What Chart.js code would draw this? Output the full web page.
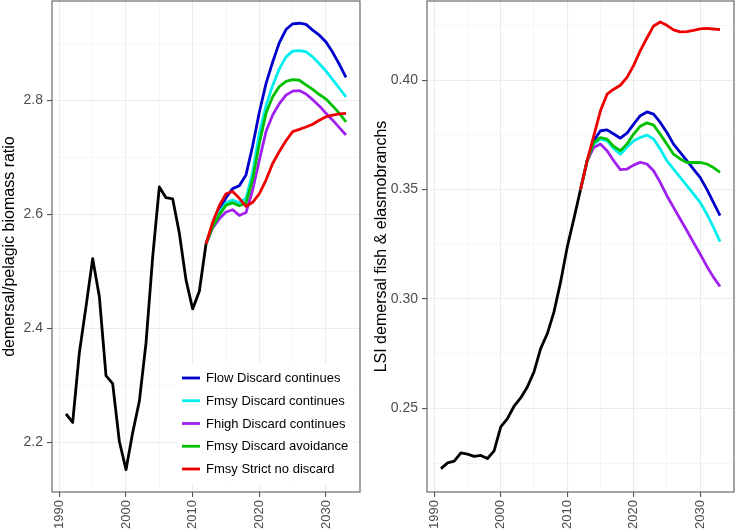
<!DOCTYPE html>
<html>
<head>
<meta charset="utf-8">
<script src="https://cdn.jsdelivr.net/npm/chart.js@4.4.1/dist/chart.umd.min.js"></script>
<style>
  body { margin: 0; background: #fff; }
  #wrap { position: relative; width: 736px; height: 529px; }
  .panel { position: absolute; top: 0; height: 529px; }
</style>
</head>
<body>
<div id="wrap">
  <div class="panel" style="left:0;width:366px"><canvas id="ratioChart" width="366" height="529"></canvas></div>
  <div class="panel" style="left:366px;width:370px"><canvas id="lsiChart" width="370" height="529"></canvas></div>
</div>
<script>
// years
const obsYears = [1991, 1992, 1993, 1994, 1995, 1996, 1997, 1998, 1999, 2000, 2001,
  2002, 2003, 2004, 2005, 2006, 2007, 2008, 2009, 2010, 2011, 2012];
const scenYears = [2012, 2013, 2014, 2015, 2016, 2017, 2018, 2019, 2020, 2021, 2022,
  2023, 2024, 2025, 2026, 2027, 2028, 2029, 2030, 2031, 2032, 2033];

const scenarioNames = ["Flow Discard continues", "Fmsy Discard continues", "Fhigh Discard continues",
  "Fmsy Discard avoidance", "Fmsy Strict no discard"];
const scenarioColors = ["#0000CD", "#00EEEE", "#A020F0", "#00C000", "#EE0000"];

// left panel: demersal/pelagic biomass ratio
const ratioObserved = [2.250, 2.235, 2.357, 2.438, 2.522, 2.456, 2.317, 2.303, 2.202, 2.152, 2.217,
  2.272, 2.374, 2.525, 2.648, 2.629, 2.627, 2.567, 2.485, 2.434, 2.465, 2.548];
const ratioFlow = [2.548, 2.580, 2.607, 2.629, 2.645, 2.650, 2.669, 2.720, 2.779, 2.829, 2.867,
  2.901, 2.924, 2.934, 2.935, 2.933, 2.923, 2.914, 2.902, 2.884, 2.863, 2.840];
const ratioFmsy = [2.548, 2.579, 2.603, 2.620, 2.625, 2.620, 2.628, 2.674, 2.742, 2.790, 2.826,
  2.855, 2.876, 2.886, 2.887, 2.885, 2.876, 2.864, 2.851, 2.836, 2.821, 2.806];
const ratioFhigh = [2.548, 2.576, 2.592, 2.604, 2.608, 2.598, 2.603, 2.643, 2.695, 2.745, 2.774,
  2.794, 2.809, 2.816, 2.817, 2.811, 2.801, 2.790, 2.777, 2.765, 2.752, 2.739];
const ratioAvoid = [2.548, 2.578, 2.599, 2.616, 2.620, 2.615, 2.620, 2.662, 2.724, 2.777, 2.806,
  2.824, 2.833, 2.836, 2.835, 2.827, 2.819, 2.810, 2.802, 2.790, 2.777, 2.762];
const ratioStrict = [2.548, 2.586, 2.615, 2.636, 2.640, 2.628, 2.614, 2.621, 2.636, 2.660, 2.689,
  2.710, 2.729, 2.745, 2.749, 2.753, 2.758, 2.765, 2.771, 2.774, 2.776, 2.777];

// right panel: LSI demersal fish & elasmobranchs
const lsiObserved = [0.2225, 0.2251, 0.2259, 0.2297, 0.2291, 0.2281, 0.2285, 0.2271, 0.2306, 0.2416, 0.2453,
  0.2510, 0.2548, 0.2598, 0.2667, 0.2773, 0.2841, 0.2940, 0.3077, 0.3237, 0.3366, 0.3500];
const lsiFlow = [0.3500, 0.3632, 0.3723, 0.3769, 0.3773, 0.3754, 0.3735, 0.3758, 0.3799, 0.3838, 0.3855,
  0.3845, 0.3807, 0.3761, 0.3708, 0.3670, 0.3632, 0.3594, 0.3556, 0.3502, 0.3442, 0.3381];
const lsiFmsy = [0.3500, 0.3632, 0.3708, 0.3731, 0.3723, 0.3688, 0.3662, 0.3693, 0.3723, 0.3738, 0.3749,
  0.3731, 0.3685, 0.3632, 0.3594, 0.3556, 0.3518, 0.3480, 0.3442, 0.3389, 0.3328, 0.3262];
const lsiFhigh = [0.3500, 0.3632, 0.3693, 0.3708, 0.3678, 0.3632, 0.3591, 0.3594, 0.3612, 0.3625, 0.3617,
  0.3586, 0.3533, 0.3472, 0.3419, 0.3366, 0.3313, 0.3259, 0.3206, 0.3150, 0.3100, 0.3057];
const lsiAvoid = [0.3500, 0.3632, 0.3715, 0.3738, 0.3731, 0.3697, 0.3678, 0.3708, 0.3754, 0.3790, 0.3805,
  0.3795, 0.3753, 0.3708, 0.3662, 0.3640, 0.3624, 0.3624, 0.3624, 0.3617, 0.3601, 0.3579];
const lsiStrict = [0.3500, 0.3632, 0.3746, 0.3860, 0.3936, 0.3959, 0.3977, 0.4013, 0.4068, 0.4135, 0.4193,
  0.4248, 0.4266, 0.4251, 0.4230, 0.4221, 0.4222, 0.4228, 0.4235, 0.4237, 0.4234, 0.4231];

// ticks (minor ones carry no label)
const xTicks = [1990, 1995, 2000, 2005, 2010, 2015, 2020, 2025, 2030, 2035];
const xMajor = [1990, 2000, 2010, 2020, 2030];
const ratioTicks = [2.2, 2.3, 2.4, 2.5, 2.6, 2.7, 2.8, 2.9];
const ratioMajor = [2.2, 2.4, 2.6, 2.8];
const lsiTicks = [0.225, 0.25, 0.275, 0.30, 0.325, 0.35, 0.375, 0.40, 0.425];
const lsiMajor = [0.25, 0.30, 0.35, 0.40];

const FONT = '"Liberation Sans", Arial, sans-serif';

function isIn(list, v) {
  return list.some(m => Math.abs(m - v) < 1e-9);
}

function toPoints(years, vals) {
  return years.map((yr, i) => ({ x: yr, y: vals[i] }));
}

function buildDatasets(observed, scen) {
  const sets = [];
  scen.forEach((vals, i) => {
    sets.push({
      label: scenarioNames[i],
      data: toPoints(scenYears, vals),
      borderColor: scenarioColors[i],
      order: scen.length - 1 - i, // last scenario on top, like ggplot
    });
  });
  sets.push({ label: "observed", data: toPoints(obsYears, observed), borderColor: "#000", order: 10 });
  return sets;
}

const panelFrame = {
  id: "panelFrame",
  afterDraw(chart) {
    const { ctx, chartArea: a } = chart;
    ctx.save();
    ctx.strokeStyle = "#6a6a6a";
    ctx.lineWidth = 1.2;
    ctx.strokeRect(a.left, a.top, a.width, a.height);
    ctx.restore();
  }
};

// legend sits inside the left panel, bottom right
const insideLegend = {
  id: "insideLegend",
  afterDraw(chart) {
    const { ctx, chartArea: a } = chart;
    ctx.save();
    ctx.fillStyle = "#fff";
    ctx.fillRect(a.right - 183, a.bottom - 128, 177, 120);
    ctx.font = "13px " + FONT;
    ctx.textBaseline = "middle";
    scenarioNames.forEach((name, i) => {
      const y = a.bottom - 114 + i * 22.75;
      ctx.strokeStyle = scenarioColors[i];
      ctx.lineWidth = 2.8;
      ctx.beginPath();
      ctx.moveTo(a.right - 178, y);
      ctx.lineTo(a.right - 160, y);
      ctx.stroke();
      ctx.fillStyle = "#000";
      ctx.fillText(name, a.right - 154, y + 0.5);
    });
    ctx.restore();
  }
};

function makeChart(id, cfg) {
  return new Chart(document.getElementById(id), {
    type: "line",
    data: { datasets: buildDatasets(cfg.observed, cfg.scen) },
    options: {
      responsive: false,
      animation: false,
      layout: { padding: { top: 1, right: cfg.padRight, left: 0, bottom: 0 } },
      elements: {
        point: { radius: 0 },
        line: { borderWidth: 2.8, tension: 0, fill: false, borderCapStyle: "butt", borderJoinStyle: "round" },
      },
      scales: {
        x: {
          type: "linear",
          min: 1988.9,
          max: 2035.1,
          afterBuildTicks: (s) => { s.ticks = xTicks.map(v => ({ value: v })); },
          afterFit: (s) => { s.height = 37; s.paddingLeft = 0; s.paddingRight = 0; },
          border: { display: false },
          grid: {
            color: (c) => isIn(xMajor, c.tick.value) ? "#EBEBEB" : "#F4F4F4",
            lineWidth: (c) => isIn(xMajor, c.tick.value) ? 1.1 : 0.8,
            tickColor: (c) => isIn(xMajor, c.tick.value) ? "#555" : "rgba(0,0,0,0)",
            tickLength: 5,
          },
          ticks: {
            autoSkip: false,
            minRotation: 90,
            maxRotation: 90,
            padding: 3,
            color: "#4D4D4D",
            font: { family: FONT, size: 13 },
            callback: (v) => isIn(xMajor, v) ? String(v) : "",
          },
        },
        y: {
          min: cfg.yMin,
          max: cfg.yMax,
          afterBuildTicks: (s) => { s.ticks = cfg.yTicks.map(v => ({ value: v })); },
          afterFit: (s) => { s.width = cfg.axisWidth; s.paddingTop = 0; s.paddingBottom = 0; },
          border: { display: false },
          grid: {
            color: (c) => isIn(cfg.yMajor, c.tick.value) ? "#EBEBEB" : "#F4F4F4",
            lineWidth: (c) => isIn(cfg.yMajor, c.tick.value) ? 1.1 : 0.8,
            tickColor: (c) => isIn(cfg.yMajor, c.tick.value) ? "#555" : "rgba(0,0,0,0)",
            tickLength: 5,
          },
          ticks: {
            autoSkip: false,
            padding: 4,
            color: "#4D4D4D",
            font: { family: FONT, size: 14 },
            callback: (v) => isIn(cfg.yMajor, v) ? v.toFixed(cfg.decimals) : "",
          },
          title: {
            display: true,
            text: cfg.title,
            color: "#000",
            font: { family: FONT, size: 16 },
            padding: { top: cfg.titlePad, bottom: 0 },
          },
        },
      },
      plugins: {
        legend: { display: false },
        tooltip: { enabled: false },
      },
    },
    plugins: cfg.withLegend ? [insideLegend, panelFrame] : [panelFrame],
  });
}

makeChart("ratioChart", {
  observed: ratioObserved,
  scen: [ratioFlow, ratioFmsy, ratioFhigh, ratioAvoid, ratioStrict],
  yMin: 2.113, yMax: 2.974,
  yTicks: ratioTicks, yMajor: ratioMajor, decimals: 1,
  title: "demersal/pelagic biomass ratio",
  axisWidth: 52, padRight: 6, titlePad: 0, withLegend: true,
});

makeChart("lsiChart", {
  observed: lsiObserved,
  scen: [lsiFlow, lsiFmsy, lsiFhigh, lsiAvoid, lsiStrict],
  yMin: 0.2118, yMax: 0.4362,
  yTicks: lsiTicks, yMajor: lsiMajor, decimals: 2,
  title: "LSI demersal fish & elasmobranchs",
  axisWidth: 61, padRight: 2, titlePad: 6, withLegend: false,
});
</script>
</body>
</html>
